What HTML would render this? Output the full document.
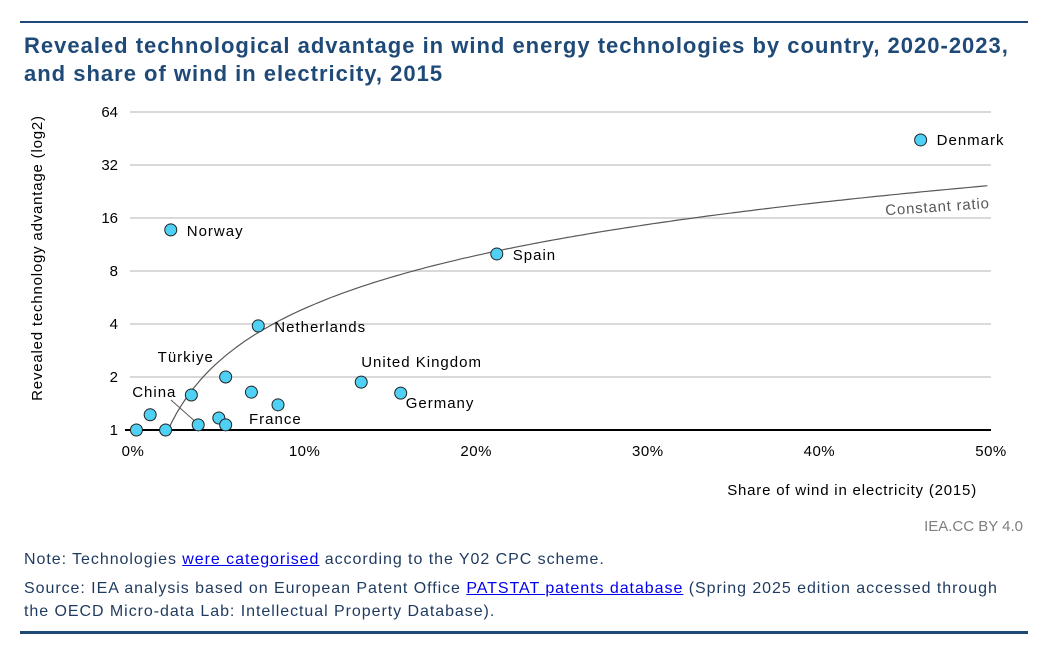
<!DOCTYPE html>
<html><head><meta charset="utf-8"><style>
body{margin:0;background:#fff;width:1061px;height:661px;overflow:hidden;font-family:"Liberation Sans",sans-serif;position:relative}
.t{position:absolute;left:24px;top:32px;font-size:22px;letter-spacing:1px;font-weight:bold;color:#1f4a78;line-height:28px;white-space:nowrap}
.note{position:absolute;left:24px;font-size:16px;letter-spacing:0.95px;color:#1f3a5f}
a{color:#0000ee}
</style></head><body>
<div style="position:absolute;left:20px;top:21px;width:1008px;height:2px;background:#1f4a78"></div>
<div class="t">Revealed technological advantage in wind energy technologies by country, 2020-2023,<br>and share of wind in electricity, 2015</div>
<svg id="c" width="1061" height="661" style="position:absolute;left:0;top:0" font-family="Liberation Sans, sans-serif">
<text transform="translate(42,258) rotate(-90)" text-anchor="middle" font-size="15" letter-spacing="0.8" fill="#000">Revealed technology advantage (log2)</text>
<text x="977" y="495" text-anchor="end" font-size="15" letter-spacing="0.8" fill="#000">Share of wind in electricity (2015)</text>
<text x="1023" y="531" text-anchor="end" font-size="15" fill="#7f7f7f">IEA.CC BY 4.0</text>
</svg>
<div class="note" style="top:551px">Note: Technologies <a href="#">were categorised</a> according to the Y02 CPC scheme.</div>
<div class="note" style="top:577px;line-height:23px;width:1000px">Source: IEA analysis based on European Patent Office <a href="#">PATSTAT patents database</a> (Spring 2025 edition accessed through the OECD Micro-data Lab: Intellectual Property Database).</div>
<div style="position:absolute;left:20px;top:631px;width:1008px;height:3px;background:#1f4a78"></div>
<script>
const yTicks=[1,2,4,8,16,32,64];
const xTicks=[0,10,20,30,40,50];
const names=["Denmark","Norway","Spain","Netherlands","United Kingdom","Germany","France","","Türkiye","","China","","","","",""];
const xs=[45.9,2.2,21.2,7.3,13.3,15.6,8.45,6.9,5.4,3.4,3.8,1.0,5.0,5.4,1.9,0.2];
const ys=[44.4,13.7,10,3.9,1.87,1.62,1.39,1.64,2.0,1.58,1.07,1.22,1.17,1.07,1.0,1.0];
const ratio=0.49;
const NS="http://www.w3.org/2000/svg",svg=document.getElementById('c');
const X=v=>133+v*17.16, Y=v=>430-Math.log2(v)*53;
function mk(t,a,p){const e=document.createElementNS(NS,t);for(const k in a)e.setAttribute(k,a[k]);(p||svg).appendChild(e);return e;}
yTicks.forEach(v=>{
 if(v>1){const g=mk('line',{x1:130,x2:991,y1:Y(v),y2:Y(v),stroke:'#d9d9d9','stroke-width':2});
 
 }
 const t=mk('text',{x:118,y:Y(v)+5,'text-anchor':'end','font-size':15,fill:'#000'});t.textContent=v;
 
 
});
const ax=mk('line',{x1:125,x2:991,y1:430,y2:430,stroke:'#000','stroke-width':2});


xTicks.forEach(v=>{const t=mk('text',{x:X(v),y:456,'text-anchor':'middle','font-size':15,'letter-spacing':0.5,fill:'#000'});t.textContent=v+'%';
 
 });
let d='';for(let x=1/ratio;x<=50.001;x+=0.25){d+=(d?'L':'M')+X(x).toFixed(1)+','+Y(ratio*x).toFixed(1);}
const cr=mk('path',{d:d,fill:'none',stroke:'#595959','stroke-width':1.2});


const cl=mk('text',{x:990,y:208,'text-anchor':'end','font-size':15,'letter-spacing':0.8,fill:'#595959',transform:'rotate(-4 990 208)'});cl.textContent='Constant ratio';


const ld=mk('line',{x1:171,y1:400,x2:198,y2:424,stroke:'#595959','stroke-width':1});


const lab={"Denmark":[16,5,'start'],"Norway":[16,6,'start'],"Spain":[16,6,'start'],"Netherlands":[16,6,'start'],"United Kingdom":[0,-15,'start'],"Germany":[5,15,'start'],"France":[-29,19,'start'],"Türkiye":[-68,-15,'start'],"China":[-66,-28,'start']};
xs.forEach((x,i)=>{
 const c=mk('circle',{cx:X(x),cy:Y(ys[i]),r:6,fill:'#4fd0f5',stroke:'#222','stroke-width':1});
 
 
 const n=names[i];if(n){const o=lab[n];const t=mk('text',{x:X(x)+o[0],y:Y(ys[i])+o[1],'font-size':15,'letter-spacing':1,fill:'#000','text-anchor':o[2]});t.textContent=n;
 
 }
});
</script>
</body></html>
